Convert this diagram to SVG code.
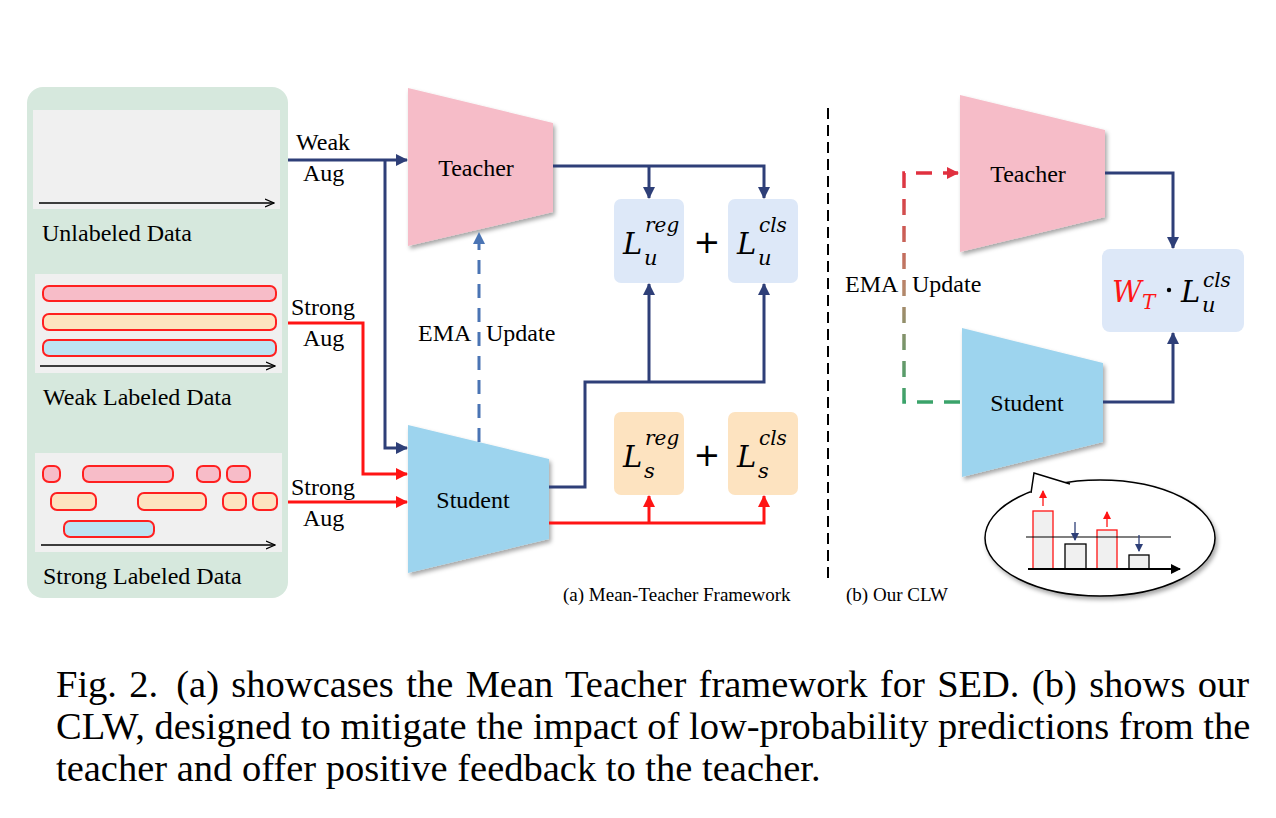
<svg xmlns="http://www.w3.org/2000/svg" width="1276" height="818" viewBox="0 0 1276 818">
<defs>
<style>
.lbl{font-family:"Liberation Serif","Times New Roman",serif;font-size:24px;fill:#000}
.sm{font-family:"Liberation Serif","Times New Roman",serif;font-size:19px;fill:#000}
.cap{font-family:"Liberation Serif","Times New Roman",serif;font-size:38.5px;fill:#000}
.m{font-family:"DejaVu Serif",serif;font-style:italic;fill:#000}
.nv{fill:none;stroke:#2e3f78;stroke-width:3}
.rd{fill:none;stroke:#ff1414;stroke-width:3}
.bar{stroke:#ff2020;stroke-width:2}
.grey{fill:#f0f0f0}
.tl{stroke:#000;stroke-width:1.3;fill:none}
</style>
<filter id="sh" x="-10%" y="-10%" width="130%" height="130%">
<feDropShadow dx="2" dy="3" stdDeviation="2" flood-color="#000" flood-opacity="0.35"/>
</filter>
<marker id="aNv" markerUnits="userSpaceOnUse" markerWidth="12" markerHeight="12" refX="11" refY="6" orient="auto"><path d="M0,0 L12,6 L0,12 z" fill="#2e3f78"/></marker>
<marker id="aRd" markerUnits="userSpaceOnUse" markerWidth="12" markerHeight="12" refX="11" refY="6" orient="auto"><path d="M0,0 L12,6 L0,12 z" fill="#ff1414"/></marker>
<marker id="aBl" markerUnits="userSpaceOnUse" markerWidth="12" markerHeight="12" refX="11" refY="6" orient="auto"><path d="M0,0 L12,6 L0,12 z" fill="#4a74b4"/></marker>
<marker id="aRd2" markerUnits="userSpaceOnUse" markerWidth="12" markerHeight="12" refX="11" refY="6" orient="auto"><path d="M0,0 L12,6 L0,12 z" fill="#e0303f"/></marker>
<marker id="aOpen" markerUnits="userSpaceOnUse" markerWidth="10" markerHeight="10" refX="9" refY="5" orient="auto"><path d="M0,1 L9,5 L0,9" fill="none" stroke="#000" stroke-width="1.3"/></marker>
<marker id="aSr" markerUnits="userSpaceOnUse" markerWidth="8" markerHeight="8" refX="7" refY="4" orient="auto"><path d="M0,0 L8,4 L0,8 z" fill="#ff1414"/></marker>
<marker id="aSb" markerUnits="userSpaceOnUse" markerWidth="8" markerHeight="8" refX="7" refY="4" orient="auto"><path d="M0,0 L8,4 L0,8 z" fill="#2e3f78"/></marker>
<marker id="aSk" markerUnits="userSpaceOnUse" markerWidth="10" markerHeight="10" refX="9" refY="5" orient="auto"><path d="M0,0 L10,5 L0,10 z" fill="#000"/></marker>
<linearGradient id="emaG" gradientUnits="userSpaceOnUse" x1="0" y1="173" x2="0" y2="402">
<stop offset="0" stop-color="#e0303f"/><stop offset="0.5" stop-color="#b8866a"/><stop offset="1" stop-color="#3aa36a"/>
</linearGradient>
</defs>
<rect width="1276" height="818" fill="#fff"/>

<g id="data-panel">
<rect x="27" y="87" width="261" height="511" rx="16" fill="#d6e8dd"/>
</g>
<g id="unlabeled">
<rect class="grey" x="33" y="110" width="247" height="99"/>
<line class="tl" x1="39" y1="203" x2="274" y2="203" marker-end="url(#aOpen)"/>
<text class="lbl" x="42" y="241">Unlabeled Data</text>
</g>
<g id="weak-labeled">
<rect class="grey" x="35" y="274" width="247" height="99"/>
<rect class="bar" x="43" y="286" width="233" height="15" rx="6" fill="#f7bcc8"/>
<rect class="bar" x="43" y="314" width="233" height="16" rx="6" fill="#fde3c0"/>
<rect class="bar" x="43" y="340" width="233" height="16" rx="6" fill="#bde3f2"/>
<line class="tl" x1="40" y1="366" x2="275" y2="366" marker-end="url(#aOpen)"/>
<text class="lbl" x="43" y="405">Weak Labeled Data</text>
</g>
<g id="strong-labeled">
<rect class="grey" x="35" y="453" width="247" height="99"/>
<rect class="bar" x="43" y="466" width="17" height="16" rx="6" fill="#f7bcc8"/>
<rect class="bar" x="83" y="466" width="90" height="16" rx="6" fill="#f7bcc8"/>
<rect class="bar" x="197" y="466" width="23" height="16" rx="6" fill="#f7bcc8"/>
<rect class="bar" x="227" y="466" width="23" height="16" rx="6" fill="#f7bcc8"/>
<rect class="bar" x="51" y="493" width="45" height="17" rx="6" fill="#fde3c0"/>
<rect class="bar" x="138" y="493" width="68" height="17" rx="6" fill="#fde3c0"/>
<rect class="bar" x="223" y="493" width="23" height="17" rx="6" fill="#fde3c0"/>
<rect class="bar" x="253" y="493" width="24" height="17" rx="6" fill="#fde3c0"/>
<rect class="bar" x="64" y="521" width="90" height="16" rx="6" fill="#bde3f2"/>
<line class="tl" x1="41" y1="545" x2="275" y2="545" marker-end="url(#aOpen)"/>
<text class="lbl" x="43" y="584">Strong Labeled Data</text>
</g>

<g id="teacher-a">
<polygon points="408,88 553,123 553,212 408,246" fill="#f6bcc8" filter="url(#sh)"/>
<text class="lbl" x="476" y="176" text-anchor="middle">Teacher</text>
</g>
<g id="student-a">
<polygon points="408,425 549,459 549,539 408,573" fill="#9dd4ee" filter="url(#sh)"/>
<text class="lbl" x="473" y="508" text-anchor="middle">Student</text>
</g>

<g id="loss-u">
<rect x="614" y="199" width="70" height="84" rx="7" fill="#dde8f8"/>
<rect x="728" y="199" width="70" height="84" rx="7" fill="#dde8f8"/>
<text class="m" x="623" y="254" font-size="29">L</text>
<text class="m" x="644" y="265" font-size="21">u</text>
<text class="m" x="645" y="232" font-size="20">reg</text>
<text x="707" y="253" font-size="32" font-family="DejaVu Sans,sans-serif" text-anchor="middle">+</text>
<text class="m" x="737" y="254" font-size="29">L</text>
<text class="m" x="758" y="265" font-size="21">u</text>
<text class="m" x="759" y="232" font-size="20">cls</text>
</g>
<g id="loss-s">
<rect x="614" y="412" width="70" height="83" rx="7" fill="#fde3c0"/>
<rect x="728" y="412" width="70" height="83" rx="7" fill="#fde3c0"/>
<text class="m" x="623" y="467" font-size="29">L</text>
<text class="m" x="644" y="478" font-size="21">s</text>
<text class="m" x="645" y="445" font-size="20">reg</text>
<text x="707" y="466" font-size="32" font-family="DejaVu Sans,sans-serif" text-anchor="middle">+</text>
<text class="m" x="737" y="467" font-size="29">L</text>
<text class="m" x="758" y="478" font-size="21">s</text>
<text class="m" x="759" y="445" font-size="20">cls</text>
</g>

<g id="teacher-b">
<polygon points="960,95 1105,130 1105,217 960,252" fill="#f6bcc8" filter="url(#sh)"/>
<text class="lbl" x="1028" y="182" text-anchor="middle">Teacher</text>
</g>
<g id="student-b">
<polygon points="962,328 1103,363 1103,442 962,477" fill="#9dd4ee" filter="url(#sh)"/>
<text class="lbl" x="1027" y="411" text-anchor="middle">Student</text>
</g>
<g id="loss-b">
<rect x="1102" y="249" width="142" height="83" rx="8" fill="#dde8f8"/>
<text class="m" x="1112" y="302" font-size="29" style="fill:#ff1414">W</text>
<text class="m" x="1142" y="309" font-size="20" style="fill:#ff1414">T</text>
<circle cx="1169" cy="290" r="2.2" fill="#000"/>
<text class="m" x="1181" y="302" font-size="29">L</text>
<text class="m" x="1202" y="312" font-size="21">u</text>
<text class="m" x="1203" y="287" font-size="20">cls</text>
</g>

<g id="bubble">
<ellipse cx="1100" cy="538" rx="115" ry="58" fill="#fff" stroke="#000" stroke-width="1.5" filter="url(#sh)"/>
<polygon points="1029,500 1034,473 1070,484 1078,492" fill="#fff"/>
<polyline points="1031,493 1034,473 1070,484" fill="none" stroke="#000" stroke-width="1.5"/>
<rect x="1033" y="511" width="20" height="58" fill="#f0f0f0" stroke="#ff1414" stroke-width="1.3"/>
<rect x="1065" y="544" width="21" height="25" fill="#f0f0f0" stroke="#000" stroke-width="1.3"/>
<rect x="1097" y="530" width="20" height="39" fill="#f0f0f0" stroke="#ff1414" stroke-width="1.3"/>
<rect x="1129" y="555" width="20" height="14" fill="#f0f0f0" stroke="#000" stroke-width="1.3"/>
<line x1="1026" y1="537" x2="1171" y2="537" stroke="#000" stroke-width="1.2"/>
<line x1="1028" y1="569" x2="1180" y2="569" stroke="#000" stroke-width="2" marker-end="url(#aSk)"/>
<line x1="1043" y1="506" x2="1043" y2="491" stroke="#ff1414" stroke-width="1.3" marker-end="url(#aSr)"/>
<line x1="1107" y1="527" x2="1107" y2="512" stroke="#ff1414" stroke-width="1.3" marker-end="url(#aSr)"/>
<line x1="1075" y1="522" x2="1075" y2="540" stroke="#2e3f78" stroke-width="1.3" marker-end="url(#aSb)"/>
<line x1="1139" y1="535" x2="1139" y2="551" stroke="#2e3f78" stroke-width="1.3" marker-end="url(#aSb)"/>
</g>

<g id="connectors">
<path class="nv" d="M288,160 H407" marker-end="url(#aNv)"/>
<path class="nv" d="M385,160 V448 H407" marker-end="url(#aNv)"/>
<path class="rd" d="M288,323 H363 V474 H407" marker-end="url(#aRd)"/>
<path class="rd" d="M288,502 H407" marker-end="url(#aRd)"/>
<path d="M479,442 V233" fill="none" stroke="#4a74b4" stroke-width="3" stroke-dasharray="14,10" marker-end="url(#aBl)"/>
<path class="nv" d="M553,166 H764 V198" marker-end="url(#aNv)"/>
<path class="nv" d="M649,166 V198" marker-end="url(#aNv)"/>
<path class="nv" d="M549,487 H585 V382 H764 V284" marker-end="url(#aNv)"/>
<path class="nv" d="M649,382 V284" marker-end="url(#aNv)"/>
<path class="rd" d="M549,523 H764 V496" marker-end="url(#aRd)"/>
<path class="rd" d="M649,523 V496" marker-end="url(#aRd)"/>
<line x1="828" y1="108" x2="828" y2="578" stroke="#000" stroke-width="2" stroke-dasharray="11,6"/>
<path d="M960,402 H904 V173 H958" fill="none" stroke="url(#emaG)" stroke-width="3.5" stroke-dasharray="16,11" marker-end="url(#aRd2)"/>
<path class="nv" d="M1105,173 H1173 V248" marker-end="url(#aNv)"/>
<path class="nv" d="M1103,402 H1173 V333" marker-end="url(#aNv)"/>
</g>

<g id="labels">
<text class="lbl" x="296" y="150">Weak</text>
<text class="lbl" x="303" y="181">Aug</text>
<text class="lbl" x="291" y="315">Strong</text>
<text class="lbl" x="303" y="346">Aug</text>
<text class="lbl" x="291" y="495">Strong</text>
<text class="lbl" x="303" y="526">Aug</text>
<text class="lbl" x="418" y="341">EMA</text>
<text class="lbl" x="486" y="341">Update</text>
<text class="lbl" x="845" y="292">EMA</text>
<text class="lbl" x="912" y="292">Update</text>
<text class="sm" x="563" y="601">(a) Mean-Teacher Framework</text>
<text class="sm" x="846" y="601">(b) Our CLW</text>
</g>

<g id="caption">
<text class="cap" x="56" y="697" word-spacing="2.75">Fig. 2.<tspan dx="18">(a) showcases the Mean Teacher framework for SED. (b) shows our</tspan></text>
<text class="cap" x="56" y="739">CLW, designed to mitigate the impact of low-probability predictions from the</text>
<text class="cap" x="56" y="781">teacher and offer positive feedback to the teacher.</text>
</g>
</svg>
